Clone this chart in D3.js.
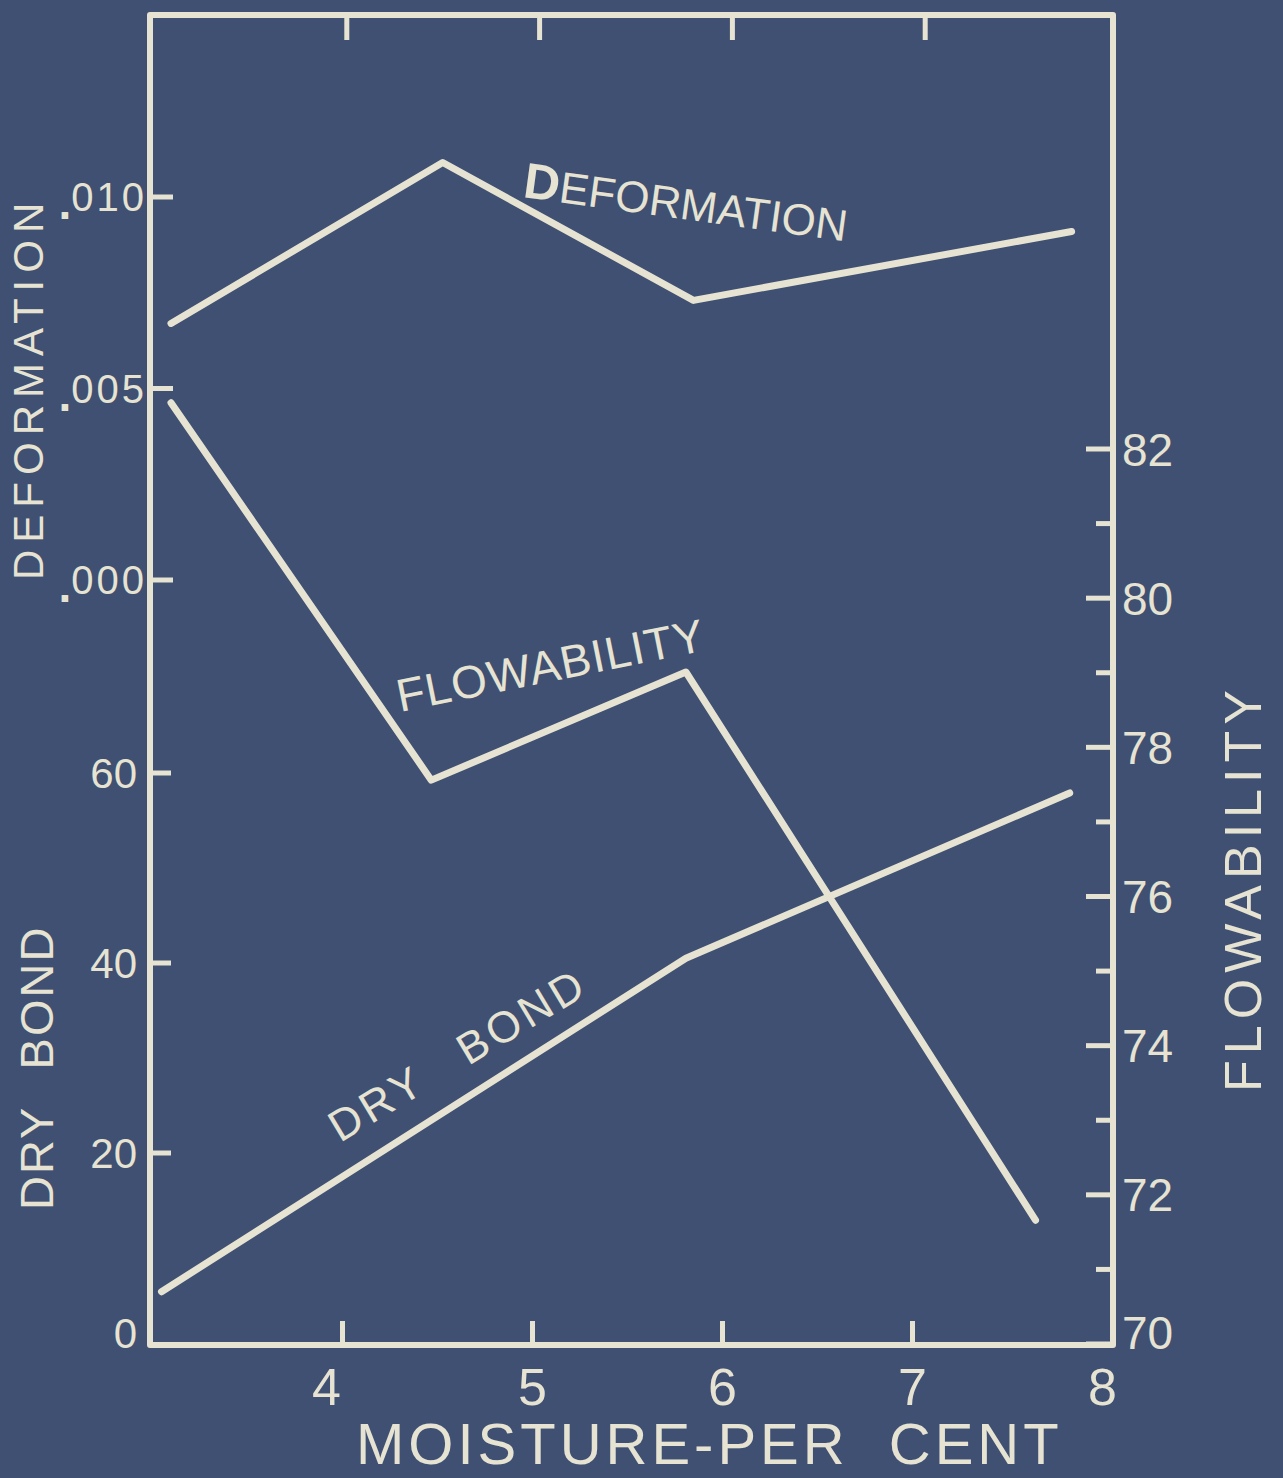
<!DOCTYPE html>
<html>
<head>
<meta charset="utf-8">
<script src="https://cdn.jsdelivr.net/npm/d3@7"></script>
<style>
html,body{margin:0;padding:0;background:#3f5072;}
svg{display:block;}
</style>
</head>
<body>
<svg id="chart" width="1283" height="1478"></svg>
<script>
// ---- data ----
const deformationX = [3.1, 4.53, 5.85, 7.84];
const deformationY = [0.0067, 0.0109, 0.0073, 0.0091];
const flowabilityX = [3.1, 4.47, 5.81, 7.65];
const flowabilityY = [82.62, 77.56, 79.01, 71.66];
const dryBondX = [3.05, 5.81, 7.83];
const dryBondY = [5.4, 40.5, 57.9];

const moistureTicks = [4, 5, 6, 7, 8];
const topTicks = [4, 5, 6, 7];
const dryBondTicks = [0, 20, 40, 60];
const deformationTicks = [0, 0.005, 0.010];
const deformationTickLabels = ["000", "005", "010"];
const flowabilityTicks = [70, 71, 72, 73, 74, 75, 76, 77, 78, 79, 80, 81, 82];
const flowabilityLabels = [70, 72, 74, 76, 78, 80, 82];

// ---- styling ----
const BG = "#3f5072";
const INK = "#e6e3d3";
const FONT = "'Liberation Sans', Arial, sans-serif";

const svg = d3.select("#chart");
svg.append("rect").attr("width", 1283).attr("height", 1478).attr("fill", BG);

// ---- scales ----
const x = d3.scaleLinear().domain([3, 8]).range([152, 1102]);
const xTop = d3.scaleLinear().domain([3, 8]).range([154, 1118]);
const yDry = d3.scaleLinear().domain([0, 60]).range([1343, 773]);
const yDef = d3.scaleLinear().domain([0, 0.010]).range([580, 197]);
const yFlow = d3.scaleLinear().domain([70, 82]).range([1344, 449]);

// frame
const L = 150, R = 1113, T = 15, B = 1345;
svg.append("path")
  .attr("d", `M${L},${T}H${R}V${B}H${L}Z`)
  .attr("fill", "none").attr("stroke", INK).attr("stroke-width", 6)
  .attr("stroke-linejoin", "round");

// top ticks
svg.append("g").selectAll("line").data(topTicks).join("line")
  .attr("x1", d => xTop(d)).attr("x2", d => xTop(d))
  .attr("y1", T).attr("y2", T + 25)
  .attr("stroke", INK).attr("stroke-width", 5);

// bottom axis
const bottomAxis = svg.append("g").attr("transform", `translate(0,${B})`)
  .call(d3.axisBottom(x).tickValues(moistureTicks).tickFormat(d3.format("d"))
    .tickSizeInner(-24).tickSizeOuter(0).tickPadding(18));
bottomAxis.select(".domain").remove();
bottomAxis.selectAll(".tick line").attr("stroke", INK).attr("stroke-width", 5)
  .filter(d => d === 8).remove();
bottomAxis.selectAll(".tick text").attr("fill", INK)
  .style("font-family", FONT).style("font-size", "52px")
  .attr("x", d => d === 4 ? -16 : 0)
  .attr("y", 60).attr("dy", 0);

// left ticks (dry bond + deformation)
svg.append("g").selectAll("line").data(dryBondTicks.filter(d => d > 0)).join("line")
  .attr("x1", L).attr("x2", L + 21)
  .attr("y1", d => yDry(d)).attr("y2", d => yDry(d))
  .attr("stroke", INK).attr("stroke-width", 5);
svg.append("g").selectAll("line").data(deformationTicks).join("line")
  .attr("x1", L).attr("x2", L + 23)
  .attr("y1", d => yDef(d)).attr("y2", d => yDef(d))
  .attr("stroke", INK).attr("stroke-width", 5);

// dry bond labels
svg.append("g").selectAll("text").data(dryBondTicks).join("text")
  .attr("x", 137).attr("y", d => yDry(d) - (d === 0 ? 10 : 0)).attr("dy", "0.36em")
  .attr("text-anchor", "end").attr("fill", INK)
  .style("font-family", FONT).style("font-size", "42px")
  .text(d => d);

// deformation labels with hand-lettered dot
const defLab = svg.append("g").selectAll("text").data(deformationTicks).join("text")
  .attr("x", 147).attr("y", d => yDef(d) + 14)
  .attr("text-anchor", "end").attr("fill", INK)
  .style("font-family", FONT);
defLab.append("tspan").attr("dy", 8).style("font-size", "46px").style("font-weight", "bold").text(".");
defLab.append("tspan").attr("dy", -8).style("font-size", "40px").style("letter-spacing", "3px")
  .text((d, i) => deformationTickLabels[i]);

// right axis ticks
svg.append("g").selectAll("line").data(flowabilityTicks).join("line")
  .attr("x1", R).attr("x2", d => R - (d % 2 === 0 ? 27 : 17))
  .attr("y1", d => yFlow(d)).attr("y2", d => yFlow(d))
  .attr("stroke", INK).attr("stroke-width", 5);
svg.append("g").selectAll("text").data(flowabilityLabels).join("text")
  .attr("x", 1122).attr("y", d => yFlow(d) - (d === 70 ? 12 : 0)).attr("dy", "0.36em")
  .attr("fill", INK).style("font-family", FONT).style("font-size", "46px")
  .text(d => d);

// ---- data lines ----
const lineStyle = sel => sel.attr("fill", "none").attr("stroke", INK).attr("stroke-width", 7)
  .attr("stroke-linecap", "round").attr("stroke-linejoin", "round");

svg.append("path")
  .datum(d3.zip(deformationX, deformationY))
  .attr("d", d3.line().x(d => x(d[0])).y(d => yDef(d[1])))
  .call(lineStyle);
svg.append("path")
  .datum(d3.zip(flowabilityX, flowabilityY))
  .attr("d", d3.line().x(d => x(d[0])).y(d => yFlow(d[1])))
  .call(lineStyle);
svg.append("path")
  .datum(d3.zip(dryBondX, dryBondY))
  .attr("d", d3.line().x(d => x(d[0])).y(d => yDry(d[1])))
  .call(lineStyle);

// ---- axis titles ----
const txt = (s, tx, ty, rot, size, ls, ws) => {
  const t = svg.append("text")
    .attr("transform", `translate(${tx},${ty}) rotate(${rot})`)
    .attr("fill", INK).style("font-family", FONT).style("font-size", size + "px")
    .style("letter-spacing", (ls || 0) + "px").style("word-spacing", (ws || 0) + "px")
    .text(s);
  return t;
};
txt("DEFORMATION", 43, 580, -90, 42, 7);
txt("DRY BOND", 53, 1210, -90, 47, 2, 22);
txt("FLOWABILITY", 1261, 1092, -90, 52, 6);
txt("MOISTURE-PER CENT", 356, 1464, 0, 58, 4, 20);

// ---- inline series labels ----
const defT = svg.append("text")
  .attr("transform", "translate(522,197) rotate(7.8)")
  .attr("fill", INK).style("font-family", FONT);
defT.append("tspan").style("font-size", "50px").style("font-weight", "bold").text("D");
defT.append("tspan").style("font-size", "44px").text("EFORMATION");

txt("FLOWABILITY", 400, 712, -11.4, 46, 1);
txt("DRY BOND", 340, 1143, -31, 44, 4, 30);
</script>
</body>
</html>
